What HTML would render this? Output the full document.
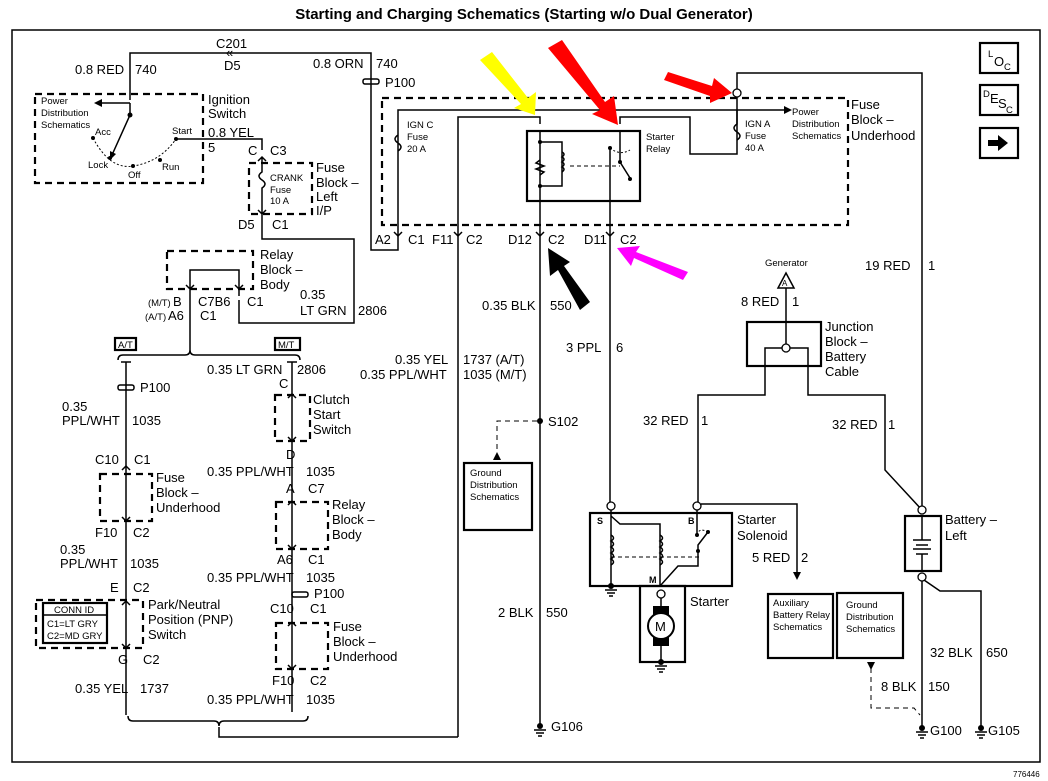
<!DOCTYPE html>
<html><head><meta charset="utf-8"><style>
html,body{margin:0;padding:0;background:#fff}
svg{display:block}
text{font-family:"Liberation Sans",Arial,sans-serif;fill:#000}
.l{font-size:13px}
.s{font-size:9.5px}
.t{font-size:15px;font-weight:bold}
.w{stroke:#000;stroke-width:1.5;fill:none}
.d{stroke:#000;stroke-width:2.2;fill:none;stroke-dasharray:7,5}
.b{stroke:#000;stroke-width:2.2;fill:none}
</style></head><body>
<svg width="1048" height="781" viewBox="0 0 1048 781" xmlns="http://www.w3.org/2000/svg">
<text x="524" y="19" class="t" text-anchor="middle">Starting and Charging Schematics (Starting w/o Dual Generator)</text>
<rect x="12" y="30" width="1028" height="732" class="w"/>
<!-- icons -->
<rect x="980" y="43" width="38" height="30" class="b"/><text x="988" y="57" class="s">L</text><text x="994" y="66" class="l">O</text><text x="1004" y="70" class="s">C</text>
<rect x="980" y="85" width="38" height="30" class="b"/><text x="983" y="97" class="s">D</text><text x="990" y="103" class="l">E</text><text x="998" y="108" class="l">S</text><text x="1006" y="113" class="s">C</text>
<rect x="980" y="128" width="38" height="30" class="b"/><path d="M988 140h10v-5l10 8-10 8v-5h-10z" fill="#000"/>

<path class="w" d="M130 100V53H371V250H398V230"/>
<text x="216" y="48" class="l">C201</text><text x="226" y="57" class="l">«</text><text x="224" y="70" class="l">D5</text>
<text x="75" y="74" class="l">0.8 RED</text><text x="135" y="74" class="l">740</text>
<text x="313" y="68" class="l">0.8 ORN</text><text x="376" y="68" class="l">740</text>
<rect x="363" y="79" width="16" height="5" rx="2" class="w" fill="#fff"/><text x="385" y="87" class="l">P100</text>
<rect x="35" y="94" width="168" height="89" class="d"/>
<text x="208" y="104" class="l">Ignition</text><text x="208" y="118" class="l">Switch</text>
<text x="41" y="104" class="s">Power</text><text x="41" y="116" class="s">Distribution</text><text x="41" y="128" class="s">Schematics</text>
<path class="w" d="M130 103H100"/><path d="M94 103l8-4v8z"/>
<path class="w" d="M130 103V115L112 155"/><path d="M110 160l0-9 6 3z"/>
<circle cx="130" cy="115" r="2.5"/><circle cx="93" cy="138" r="2"/><circle cx="110" cy="158" r="2"/><circle cx="133" cy="166" r="2"/><circle cx="160" cy="160" r="2"/><circle cx="176" cy="139" r="2"/>
<path d="M93 138Q110 170 133 166Q160 162 176 139" fill="none" stroke="#000" stroke-dasharray="2,2"/>
<text x="95" y="135" class="s">Acc</text><text x="88" y="168" class="s">Lock</text><text x="128" y="178" class="s">Off</text><text x="162" y="170" class="s">Run</text><text x="172" y="134" class="s">Start</text>
<path class="w" d="M176 139H262V150"/>
<text x="208" y="137" class="l">0.8 YEL</text><text x="208" y="152" class="l">5</text>
<text x="248" y="155" class="l">C</text><text x="270" y="155" class="l">C3</text>
<rect x="249" y="163" width="63" height="51" class="d"/>
<path class="w" d="M262 157V172q-6 4 0 8q6 4 0 8V222M258 161l4-4 4 4M258 210l4 4 4-4"/>
<text x="270" y="181" class="s">CRANK</text><text x="270" y="193" class="s">Fuse</text><text x="270" y="204" class="s">10 A</text>
<text x="316" y="172" class="l">Fuse</text><text x="316" y="187" class="l">Block –</text><text x="316" y="201" class="l">Left</text><text x="316" y="215" class="l">I/P</text>
<text x="238" y="229" class="l">D5</text><text x="272" y="229" class="l">C1</text>
<path class="w" d="M262 222V239H354V323H239V300"/>
<rect x="167" y="251" width="86" height="38" class="d"/>
<path class="w" d="M190 296V270H239V296M186 285l4 4 4-4M235 285l4 4 4-4"/>
<text x="260" y="259" class="l">Relay</text><text x="260" y="274" class="l">Block –</text><text x="260" y="289" class="l">Body</text>
<text x="148" y="306" class="s">(M/T)</text><text x="173" y="306" class="l">B</text><text x="145" y="320" class="s">(A/T)</text><text x="168" y="320" class="l">A6</text>
<text x="198" y="306" class="l">C7B6</text><text x="200" y="320" class="l">C1</text><text x="247" y="306" class="l">C1</text>
<text x="300" y="299" class="l">0.35</text><text x="300" y="315" class="l">LT GRN</text><text x="358" y="315" class="l">2806</text>
<path class="w" d="M190 296V350"/>
<path class="w" d="M118 360q0-5 5-5H185q5 0 5-5q0 5 5 5H295q5 0 5 5"/>
<rect x="115" y="338" width="21" height="12" class="b"/><text x="118" y="348" class="s">A/T</text>
<rect x="275" y="338" width="25" height="12" class="b"/><text x="278" y="348" class="s">M/T</text>
<path class="w" d="M126 362V715"/><path class="w" d="M121 362H131M122 470l4-4 4 4M122 517l4 4 4-4M122 605l4-4 4 4M122 644l4 4 4-4"/>
<rect x="118" y="385" width="16" height="5" rx="2" class="w" fill="#fff"/><text x="140" y="392" class="l">P100</text>
<text x="62" y="411" class="l">0.35</text><text x="62" y="425" class="l">PPL/WHT</text><text x="132" y="425" class="l">1035</text>
<text x="95" y="464" class="l">C10</text><text x="134" y="464" class="l">C1</text>
<rect x="100" y="474" width="52" height="47" class="d"/>
<text x="156" y="482" class="l">Fuse</text><text x="156" y="497" class="l">Block –</text><text x="156" y="512" class="l">Underhood</text>
<text x="95" y="537" class="l">F10</text><text x="133" y="537" class="l">C2</text>
<text x="60" y="554" class="l">0.35</text><text x="60" y="568" class="l">PPL/WHT</text><text x="130" y="568" class="l">1035</text>
<text x="110" y="592" class="l">E</text><text x="133" y="592" class="l">C2</text>
<rect x="36" y="600" width="107" height="48" class="d"/>
<rect x="43" y="603" width="64" height="40" class="b"/><path class="w" d="M43 615H107"/>
<text x="54" y="613" class="s">CONN ID</text><text x="47" y="627" class="s">C1=LT GRY</text><text x="47" y="639" class="s">C2=MD GRY</text>
<text x="148" y="609" class="l">Park/Neutral</text><text x="148" y="624" class="l">Position (PNP)</text><text x="148" y="639" class="l">Switch</text>
<text x="118" y="664" class="l">G</text><text x="143" y="664" class="l">C2</text>
<text x="75" y="693" class="l">0.35 YEL</text><text x="140" y="693" class="l">1737</text>
<path class="w" d="M292 362V712"/><path class="w" d="M287 362H297M288 398l4-4 4 4M288 437l4 4 4-4M288 505l4-4 4 4M288 545l4 4 4-4M288 626l4-4 4 4M288 665l4 4 4-4"/>
<text x="207" y="374" class="l">0.35 LT GRN</text><text x="297" y="374" class="l">2806</text>
<text x="279" y="388" class="l">C</text>
<rect x="275" y="395" width="35" height="46" class="d"/>
<text x="313" y="404" class="l">Clutch</text><text x="313" y="419" class="l">Start</text><text x="313" y="434" class="l">Switch</text>
<text x="286" y="459" class="l">D</text>
<text x="207" y="476" class="l">0.35 PPL/WHT</text><text x="306" y="476" class="l">1035</text>
<text x="286" y="493" class="l">A</text><text x="308" y="493" class="l">C7</text>
<rect x="276" y="502" width="52" height="47" class="d"/>
<text x="332" y="509" class="l">Relay</text><text x="332" y="524" class="l">Block –</text><text x="332" y="539" class="l">Body</text>
<text x="277" y="564" class="l">A6</text><text x="308" y="564" class="l">C1</text>
<text x="207" y="582" class="l">0.35 PPL/WHT</text><text x="306" y="582" class="l">1035</text>
<rect x="292" y="592" width="16" height="5" rx="2" class="w" fill="#fff"/><text x="314" y="598" class="l">P100</text>
<text x="270" y="613" class="l">C10</text><text x="310" y="613" class="l">C1</text>
<rect x="276" y="623" width="52" height="46" class="d"/>
<text x="333" y="631" class="l">Fuse</text><text x="333" y="646" class="l">Block –</text><text x="333" y="661" class="l">Underhood</text>
<text x="272" y="685" class="l">F10</text><text x="310" y="685" class="l">C2</text>
<text x="207" y="704" class="l">0.35 PPL/WHT</text><text x="306" y="704" class="l">1035</text>
<path class="w" d="M128 716q0 5 5 5H214q5 0 5 5q0-5 5-5H303q5 0 5-5"/>
<path class="w" d="M219 727V737H458"/>
<rect x="382" y="98" width="466" height="127" class="d"/>
<text x="851" y="109" class="l">Fuse</text><text x="851" y="124" class="l">Block –</text><text x="851" y="140" class="l">Underhood</text>
<path class="w" d="M398 230V135q-6 4 0 8q6 4 0 8V110H785"/><path d="M792 110l-8-4v8z"/>
<text x="792" y="115" class="s">Power</text><text x="792" y="127" class="s">Distribution</text><text x="792" y="139" class="s">Schematics</text>
<text x="407" y="128" class="s">IGN C</text><text x="407" y="140" class="s">Fuse</text><text x="407" y="152" class="s">20 A</text>
<path class="w" d="M458 737V117H540V124"/>
<rect x="527" y="131" width="113" height="70" class="b"/>
<path class="w" d="M540 131V228M540 135V201M540 142H562V186H540M610 201V148M620 131V162L630 178"/>
<path class="w" d="M540 160l-4 3 8 3-8 3 8 3-4 3" />
<path class="w" d="M562 152q4 2 0 5q4 2 0 5q4 2 0 5q4 2 0 5"/>
<path d="M570 166H620" stroke="#000" stroke-dasharray="4,3"/>
<circle cx="540" cy="142" r="2"/><circle cx="540" cy="186" r="2"/><circle cx="620" cy="162" r="2"/><circle cx="630" cy="179" r="2"/><circle cx="610" cy="148" r="2"/>
<path d="M610 148q10 8 20 2" fill="none" stroke="#000" stroke-dasharray="2,2"/>
<path class="w" d="M610 201V228"/>
<path class="w" d="M620 124V117H690V154H737V93"/>
<path class="w" d="M737 110v14q-6 4 0 8q6 4 0 8"/>
<text x="646" y="140" class="s">Starter</text><text x="646" y="152" class="s">Relay</text>
<text x="745" y="127" class="s">IGN A</text><text x="745" y="139" class="s">Fuse</text><text x="745" y="151" class="s">40 A</text>
<circle cx="737" cy="93" r="4" fill="#fff" stroke="#000" stroke-width="1.3"/>
<path class="w" d="M737 89V73H922V506"/>
<text x="375" y="244" class="l">A2</text><text x="408" y="244" class="l">C1</text>
<text x="432" y="244" class="l">F11</text><text x="466" y="244" class="l">C2</text>
<text x="508" y="244" class="l">D12</text><text x="548" y="244" class="l">C2</text>
<text x="584" y="244" class="l">D11</text><text x="620" y="244" class="l">C2</text>
<g class="w">
<path d="M394 232l4 4 4-4"/><path d="M454 232l4 4 4-4"/><path d="M536 232l4 4 4-4"/><path d="M606 232l4 4 4-4"/>
</g>
<path class="w" d="M540 228V724"/>
<text x="482" y="310" class="l">0.35 BLK</text><text x="550" y="310" class="l">550</text>
<text x="395" y="364" class="l">0.35 YEL</text><text x="463" y="364" class="l">1737 (A/T)</text>
<text x="360" y="379" class="l">0.35 PPL/WHT</text><text x="463" y="379" class="l">1035 (M/T)</text>
<circle cx="540" cy="421" r="3"/><text x="548" y="426" class="l">S102</text>
<path d="M537 421H497V455" fill="none" stroke="#000" stroke-dasharray="5,4"/><path d="M497 452l-4 8h8z"/>
<rect x="464" y="463" width="68" height="67" class="b"/>
<text x="470" y="476" class="s">Ground</text><text x="470" y="488" class="s">Distribution</text><text x="470" y="500" class="s">Schematics</text>
<text x="498" y="617" class="l">2 BLK</text><text x="546" y="617" class="l">550</text>
<text x="551" y="731" class="l">G106</text>
<path class="w" d="M610 228V502"/>
<text x="566" y="352" class="l">3 PPL</text><text x="616" y="352" class="l">6</text>
<text x="765" y="266" class="s">Generator</text>
<path d="M778 288L786 273L794 288Z" fill="#fff" stroke="#000" stroke-width="1.5"/><text x="782" y="286" style="font-size:8px">A</text>
<path class="w" d="M786 288V344"/>
<text x="741" y="306" class="l">8 RED</text><text x="792" y="306" class="l">1</text>
<rect x="747" y="322" width="74" height="44" class="b"/>
<circle cx="786" cy="348" r="4" fill="#fff" stroke="#000" stroke-width="1.3"/>
<path class="w" d="M782 348H765V395H698V502M790 348H808V395H885V470L922 510"/>
<text x="825" y="331" class="l">Junction</text><text x="825" y="346" class="l">Block –</text><text x="825" y="361" class="l">Battery</text><text x="825" y="376" class="l">Cable</text>
<text x="865" y="270" class="l">19 RED</text><text x="928" y="270" class="l">1</text>
<text x="643" y="425" class="l">32 RED</text><text x="701" y="425" class="l">1</text>
<text x="832" y="429" class="l">32 RED</text><text x="888" y="429" class="l">1</text>
<circle cx="611" cy="506" r="4" fill="#fff" stroke="#000" stroke-width="1.3"/>
<circle cx="697" cy="506" r="4" fill="#fff" stroke="#000" stroke-width="1.3"/>
<path class="w" d="M701 504H797V572"/><path d="M797 580l-4-8h8z"/>
<rect x="590" y="513" width="142" height="73" class="b"/>
<path class="w" d="M611 510V586M611 516L620 524H660V586M660 586L678 566H698V545L708 532M697 510V535"/>
<path class="w" d="M611 535q5 3 0 6q5 3 0 6q5 3 0 6q5 3 0 6q5 3 0 6"/>
<path class="w" d="M660 535q5 3 0 6q5 3 0 6q5 3 0 6q5 3 0 6q5 3 0 6"/>
<path d="M611 557H700" stroke="#000" stroke-dasharray="4,3"/>
<circle cx="697" cy="535" r="2"/><circle cx="708" cy="532" r="2"/><circle cx="698" cy="551" r="2"/>
<path d="M697 535q2-8 11-3" fill="none" stroke="#000" stroke-dasharray="2,2"/>
<text x="597" y="524" style="font-size:9px;font-weight:bold">S</text><text x="688" y="524" style="font-size:9px;font-weight:bold">B</text><text x="649" y="583" style="font-size:9px;font-weight:bold">M</text>
<text x="737" y="524" class="l">Starter</text><text x="737" y="540" class="l">Solenoid</text>
<circle cx="611" cy="586" r="3"/><path class="w" d="M605 590h12M607 593h8M609 596h4"/>
<rect x="640" y="586" width="45" height="76" class="b"/>
<circle cx="661" cy="594" r="4" fill="#fff" stroke="#000" stroke-width="1.3"/>
<path class="w" d="M661 598V660"/>
<rect x="653" y="606" width="16" height="40" fill="#000"/>
<circle cx="661" cy="626" r="13" fill="#fff" stroke="#000" stroke-width="2"/><text x="655" y="631" class="l">M</text>
<circle cx="661" cy="662" r="3"/><path class="w" d="M655 666h12M657 669h8M659 672h4"/>
<text x="690" y="606" class="l">Starter</text>
<text x="752" y="562" class="l">5 RED</text><text x="801" y="562" class="l">2</text>
<rect x="768" y="594" width="65" height="64" class="b"/>
<text x="773" y="606" class="s">Auxiliary</text><text x="773" y="618" class="s">Battery Relay</text><text x="773" y="630" class="s">Schematics</text>
<rect x="837" y="593" width="66" height="65" class="b"/>
<text x="846" y="608" class="s">Ground</text><text x="846" y="620" class="s">Distribution</text><text x="846" y="632" class="s">Schematics</text>
<circle cx="922" cy="510" r="4" fill="#fff" stroke="#000" stroke-width="1.3"/>
<rect x="905" y="516" width="36" height="55" class="b"/>
<path class="w" d="M922 516V540M922 554V571M913 540h18M916 545h12M913 549h18M916 554h12"/>
<circle cx="922" cy="577" r="4" fill="#fff" stroke="#000" stroke-width="1.3"/>
<text x="945" y="524" class="l">Battery –</text><text x="945" y="540" class="l">Left</text>
<path class="w" d="M922 581V727M924 580L940 591H981V727"/>
<text x="930" y="657" class="l">32 BLK</text><text x="986" y="657" class="l">650</text>
<text x="881" y="691" class="l">8 BLK</text><text x="928" y="691" class="l">150</text>
<path d="M871 668V708H914L920 715" fill="none" stroke="#000" stroke-dasharray="5,4"/><path d="M867 662h8l-4 8z"/>
<circle cx="540" cy="726" r="3"/><path class="w" d="M534 730h12M536 733h8M538 736h4"/>
<circle cx="922" cy="728" r="3"/><path class="w" d="M916 732h12M918 735h8M920 738h4"/>
<circle cx="981" cy="728" r="3"/><path class="w" d="M975 732h12M977 735h8M979 738h4"/>
<text x="930" y="735" class="l">G100</text><text x="988" y="735" class="l">G105</text>
<text x="1013" y="777" style="font-size:8px">776446</text>
<path d="M480 60L492 52L528 98L536 92L535 115L514 108L521 104Z" fill="#ffff00"/>
<path d="M548 48L562 40L605 102L614 96L618 125L592 114L600 110Z" fill="#ff0000"/>
<path d="M664 80L668 72L712 86L714 78L732 93L710 103L710 96Z" fill="#ff0000"/>
<path d="M590 302L580 310L558 270L550 276L548 248L570 262L564 266Z" fill="#000"/>
<path d="M688 272L683 280L634 258L631 266L617 248L640 246L636 252Z" fill="#ff00ff"/>
</svg>
</body></html>
